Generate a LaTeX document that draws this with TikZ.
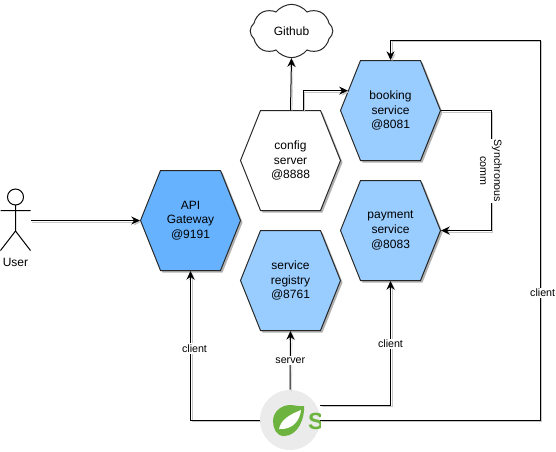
\documentclass[tikz,border=0pt]{standalone}
\usepackage{fontspec}
\setmainfont{Liberation Sans}
\usetikzlibrary{positioning,arrows.meta,shapes,shapes.symbols,shadows,calc}

\definecolor{gatewayblue}{HTML}{66B2FF}
\definecolor{serviceblue}{HTML}{99CCFF}
\definecolor{springgreen}{HTML}{6DB33F}

\begin{document}
\begin{tikzpicture}[
  x=.75pt,y=-.75pt,
  hex/.style={signal,signal to=east and west,signal pointer angle=136.4,draw=black!85,line width=.75pt,
    fill=#1,minimum width=75pt,minimum height=75pt,inner sep=0pt,align=center,
    font=\fontsize{9}{11}\selectfont,
    drop shadow={shadow xshift=1.5pt,shadow yshift=-1.5pt,fill=black,opacity=.3}},
  conn/.style={-{Stealth[length=6.5pt,width=6pt]},line width=.75pt,
    preaction={draw=black!22,transform canvas={shift={(1.2pt,-1.2pt)}}}},
  lbl/.style={font=\fontsize{8}{10.5}\selectfont,fill=white,inner sep=1pt,align=center},
  actor/.style={line width=.75pt},
]

\useasboundingbox (0,0) rectangle (556,451);

% === Services ===
\node[hex=gatewayblue] (gateway) at (190.5,220.5) {API\\Gateway\\@9191};
\node[hex=white] (config) at (290.5,160.5) {config\\server\\@8888};
\node[hex=serviceblue] (registry) at (290.5,280.5) {service\\registry\\@8761};
\node[hex=serviceblue] (booking) at (390.5,110.5) {booking\\service\\@8081};
\node[hex=serviceblue] (payment) at (390.5,230.5) {payment\\service\\@8083};

% === Github ===
\node[cloud,cloud puffs=8,cloud puff arc=105,aspect=1.6,draw=black!85,line width=.75pt,fill=white,
  minimum width=62pt,minimum height=40pt,inner sep=0pt,font=\fontsize{9}{11}\selectfont] (github) at (291.5,31) {Github};

% === User ===
\node[minimum width=22.5pt,minimum height=45pt,inner sep=0pt] (user) at (15.5,220.5) {};
\node[font=\fontsize{9}{11}\selectfont,below=2pt of user] (userlabel) {User};
\draw[actor] (15.5,197) circle (8);
\draw[actor] (15.5,205) -- (15.5,231) (0.5,210.5) -- (30.5,210.5)
  (0.5,250.5) -- (15.5,231) -- (30.5,250.5);

% === Spring logo ===
\node[circle,fill=black!8,minimum size=45pt,inner sep=0pt] (spring) at (290,420) {};
\fill[springgreen] (304,406) .. controls (305,418) and (298,436) .. (284,436)
  .. controls (276,436) and (273,428) .. (273,421)
  .. controls (273,412) and (281,405) .. (290,405)
  .. controls (295,405) and (300,407) .. (304,406);
\fill[white] (301,410) .. controls (300,420) and (293,430) .. (279,429)
  .. controls (281,419) and (291,414) .. (301,410);
\begin{scope}
\clip (300,400) rectangle (320,440);
\node[inner sep=0pt,text=springgreen,font=\fontsize{17.5}{17.5}\bfseries\selectfont] (springs) at (316,421.5) {S};
\end{scope}
\coordinate (springtop) at (320,405);
\coordinate (springbot) at (320,420);

% === Corners ===
\coordinate (rightbus) at (540,40);
\coordinate (syncmid) at (491,171);

% === Connectors ===
\draw[conn] (user.east) -- (gateway.west);
\draw[conn] (config.north) -- (github.south);
\draw[conn] (config.76.5) |- (booking.155);
\draw[conn] (booking.east) -| (syncmid) |- (payment.east);
\draw[conn] (spring.west) -| node[lbl,pos=.74,xshift=3pt] {client} (gateway.south);
\draw[conn] (spring.north) -- node[lbl,pos=.5] {server} (registry.south);
\draw[conn] (springtop) -| node[lbl,pos=.746] {client} (payment.south);
\draw[conn] (springbot) -| node[lbl,pos=.667,xshift=2pt] {client} (rightbus) -| (booking.north);

% === Synchronous label ===
\node[lbl,rotate=-90] (synclabel) at (syncmid) {Synchronous\\comm};

\end{tikzpicture}
\end{document}
